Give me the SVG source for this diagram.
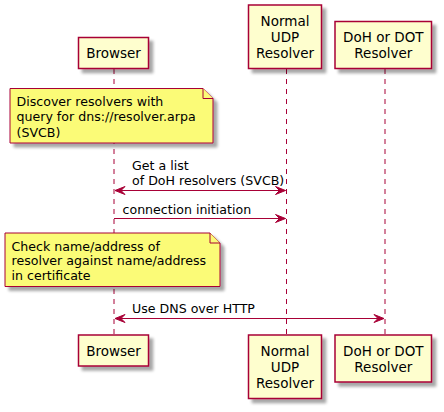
<svg xmlns="http://www.w3.org/2000/svg" width="444" height="412" viewBox="0 0 444 412">
<defs>
<filter id="sh" x="-20%" y="-20%" width="150%" height="150%">
<feGaussianBlur in="SourceAlpha" stdDeviation="1.8"/>
<feOffset dx="4" dy="4" result="b"/>
<feComponentTransfer><feFuncA type="linear" slope="0.35"/></feComponentTransfer>
<feMerge><feMergeNode/><feMergeNode in="SourceGraphic"/></feMerge>
</filter>
<marker id="ah" viewBox="0 0 12 10" refX="11" refY="5" markerWidth="12" markerHeight="10" markerUnits="userSpaceOnUse" orient="auto-start-reverse">
<polygon points="1,1 11,5 1,9 5,5" fill="#A80036" stroke="#A80036" stroke-width="1"/>
</marker>
</defs>
<style>
.p{fill:#FEFECE;stroke:#A80036;stroke-width:1.5}
.pt{font-family:"DejaVu Sans",sans-serif;font-size:13.5px;fill:#000;text-anchor:middle}
.n{fill:#FBFB77;stroke:#A80036;stroke-width:1}
.nt{font-family:"DejaVu Sans",sans-serif;font-size:12.6px;fill:#000}
.ll{stroke:#A80036;stroke-width:1;stroke-dasharray:5,5}
.m{stroke:#A80036;stroke-width:1;fill:none}
.mt{font-family:"DejaVu Sans",sans-serif;font-size:12.6px;fill:#000}
</style>
<rect width="444" height="412" fill="#fff"/>
<g id="lifelines">
<line class="ll" x1="114" y1="69" x2="114" y2="335"/>
<line class="ll" x1="286.5" y1="69" x2="286.5" y2="335"/>
<line class="ll" x1="385" y1="69" x2="385" y2="335"/>
</g>
<g id="browser">
<rect class="p" x="78.5" y="37.5" width="70" height="31" filter="url(#sh)"/>
<text class="pt" x="113.5" y="58">Browser</text>
</g>
<g id="normal">
<rect class="p" x="248.5" y="5" width="73" height="63.5" filter="url(#sh)"/>
<text class="pt" x="285" y="25.5">Normal</text>
<text class="pt" x="285" y="41.5">UDP</text>
<text class="pt" x="285" y="57.5">Resolver</text>
</g>
<g id="doh">
<rect class="p" x="335" y="21.5" width="96.5" height="47" filter="url(#sh)"/>
<text class="pt" x="383.3" y="41.5">DoH or DOT</text>
<text class="pt" x="383.3" y="57.5">Resolver</text>
</g>
<g id="browser-bottom">
<rect class="p" x="78.5" y="335" width="70" height="31" filter="url(#sh)"/>
<text class="pt" x="113.5" y="355.5">Browser</text>
</g>
<g id="normal-bottom">
<rect class="p" x="248.5" y="335" width="73" height="63.5" filter="url(#sh)"/>
<text class="pt" x="285" y="355.8">Normal</text>
<text class="pt" x="285" y="371.8">UDP</text>
<text class="pt" x="285" y="387.8">Resolver</text>
</g>
<g id="doh-bottom">
<rect class="p" x="335" y="335" width="96.5" height="47" filter="url(#sh)"/>
<text class="pt" x="383.3" y="355.8">DoH or DOT</text>
<text class="pt" x="383.3" y="371.8">Resolver</text>
</g>
<g id="note1">
<path class="n" d="M10,88.5 H203 L213,98.5 V143 H10 Z" filter="url(#sh)"/>
<path class="n" d="M203,88.5 V98.5 H213" fill="none"/>
<text class="nt" x="16.5" y="106">Discover resolvers with</text>
<text class="nt" x="16.5" y="121.3">query for dns://resolver.arpa</text>
<text class="nt" x="16.5" y="136.6">(SVCB)</text>
</g>
<g id="note2">
<path class="n" d="M5,233 H210 L220,243 V286.5 H5 Z" filter="url(#sh)"/>
<path class="n" d="M210,233 V243 H220" fill="none"/>
<text class="nt" x="11.5" y="250.5">Check name/address of</text>
<text class="nt" x="11.5" y="265">resolver against name/address</text>
<text class="nt" x="11.5" y="279.5">in certificate</text>
</g>
<g id="connectors">
<line class="m" x1="115" y1="190.5" x2="285.5" y2="190.5" marker-start="url(#ah)" marker-end="url(#ah)"/>
<text class="mt" x="132" y="169.8">Get a list</text>
<text class="mt" x="132" y="184.5">of DoH resolvers (SVCB)</text>
<line class="m" x1="114" y1="218.5" x2="285.5" y2="218.5" marker-end="url(#ah)"/>
<text class="mt" x="122.5" y="213.5">connection initiation</text>
<line class="m" x1="115" y1="318.5" x2="384" y2="318.5" marker-start="url(#ah)" marker-end="url(#ah)"/>
<text class="mt" x="132" y="313.3">Use DNS over HTTP</text>
</g>
</svg>
